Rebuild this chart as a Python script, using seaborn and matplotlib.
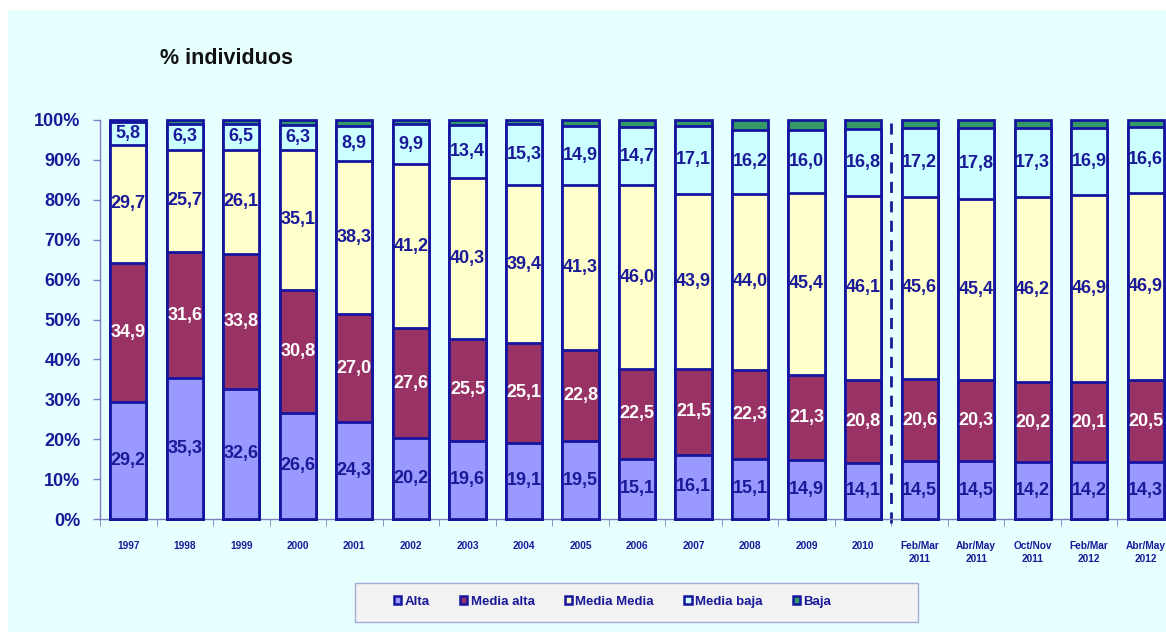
import numpy as np
import pandas as pd
import matplotlib
matplotlib.use("Agg")
import matplotlib.pyplot as plt
import seaborn as sns
from matplotlib.patches import Rectangle, Patch

categories = ["1997", "1998", "1999", "2000", "2001", "2002", "2003", "2004", "2005",
              "2006", "2007", "2008", "2009", "2010",
              "Feb/Mar\n2011", "Abr/May\n2011", "Oct/Nov\n2011", "Feb/Mar\n2012", "Abr/May\n2012"]
alta = [29.2, 35.3, 32.6, 26.6, 24.3, 20.2, 19.6, 19.1, 19.5, 15.1, 16.1, 15.1, 14.9, 14.1,
        14.5, 14.5, 14.2, 14.2, 14.3]
media_alta = [34.9, 31.6, 33.8, 30.8, 27.0, 27.6, 25.5, 25.1, 22.8, 22.5, 21.5, 22.3, 21.3, 20.8,
              20.6, 20.3, 20.2, 20.1, 20.5]
media_media = [29.7, 25.7, 26.1, 35.1, 38.3, 41.2, 40.3, 39.4, 41.3, 46.0, 43.9, 44.0, 45.4, 46.1,
               45.6, 45.4, 46.2, 46.9, 46.9]
media_baja = [5.8, 6.3, 6.5, 6.3, 8.9, 9.9, 13.4, 15.3, 14.9, 14.7, 17.1, 16.2, 16.0, 16.8,
              17.2, 17.8, 17.3, 16.9, 16.6]
baja = [0.4, 1.1, 1.0, 1.2, 1.5, 1.1, 1.2, 1.1, 1.5, 1.7, 1.4, 2.4, 2.4, 2.2,
        2.1, 2.0, 2.1, 1.9, 1.7]
series_names = ["Alta", "Media alta", "Media Media", "Media baja", "Baja"]
series_vals = [alta, media_alta, media_media, media_baja, baja]
colors = ["#9999FF", "#993366", "#FFFFCC", "#CCFFFF", "#339966"]
label_colors = ["#1A1A99", "white", "#1A1A99", "#1A1A99", None]

W, H = 1166, 632
navy = "#1A1A99"
edge = "#1515A0"

sns.set_style("white")
plt.rcParams['font.family'] = ['Liberation Sans', 'DejaVu Sans']

fig = plt.figure(figsize=(W / 100, H / 100), dpi=100)
fig.patch.set_facecolor("white")
fig.patches.append(Rectangle((8 / W, 0), 1, 1 - 10 / H, transform=fig.transFigure,
                             facecolor="#E6FFFF", edgecolor="none", zorder=-10))

left_px, right_px, top_px, bot_px = 100, 1174, 120, 519
ax = fig.add_axes([left_px / W, 1 - bot_px / H, (right_px - left_px) / W, (bot_px - top_px) / H])
ax.set_facecolor("none")

df = pd.DataFrame({"cat": categories})
vals = np.array(series_vals)
cum = np.cumsum(vals, axis=0)

# draw from top-most cumulative down so lower segments overlay
for k in range(len(series_names) - 1, -1, -1):
    df["v"] = cum[k]
    sns.barplot(data=df, x="cat", y="v", order=categories, color=colors[k], saturation=1,
                width=0.64, edgecolor=edge, linewidth=2, ax=ax, zorder=2 + (5 - k))

for p in ax.patches:
    p.set_clip_on(False)

# labels
for k in range(4):
    for i in range(len(categories)):
        bottom = cum[k][i] - vals[k][i]
        txt = f"{vals[k][i]:.1f}".replace(".", ",")
        ax.text(i, bottom + vals[k][i] / 2, txt, ha="center", va="center",
                fontsize=13, fontweight="bold", color=label_colors[k], zorder=20)

ax.axvline(13.5, ymin=-0.01, ymax=1.005, color=navy, linestyle=(0, (4, 3)), linewidth=2, zorder=1,
           clip_on=False)

ax.set_xlim(-0.5, 18.5)
ax.set_ylim(0, 100)
ax.set_yticks(np.arange(0, 101, 10))
ax.set_yticklabels([f"{v}%" for v in range(0, 101, 10)])
ax.tick_params(axis="y", labelsize=13, labelcolor=navy, length=5, width=1, color="#7F7FBF",
               direction="out", left=True, pad=9)
for t in ax.get_yticklabels():
    t.set_fontweight("bold")
ax.set_xticks(range(len(categories)))
ax.set_xticklabels(categories)
ax.tick_params(axis="x", labelsize=7.3, labelcolor=navy, length=0, pad=16)
for t in ax.get_xticklabels():
    t.set_fontweight("bold")
    t.set_linespacing(1.3)
    t.set_verticalalignment("top")
ax.set_xticks(np.arange(-0.5, 18.6, 1), minor=True)
ax.tick_params(axis="x", which="minor", length=5, color="#7F7FBF", direction="out", bottom=True)
ax.set_xlabel("")
ax.set_ylabel("")
for s in ["top", "right"]:
    ax.spines[s].set_visible(False)
for s in ["left", "bottom"]:
    ax.spines[s].set_color("#7F7FBF")
    ax.spines[s].set_linewidth(1)

fig.text(160 / W, 1 - 58 / H, "% individuos", fontsize=15.5, fontweight="bold",
         color="#111111", ha="left", va="center")

# legend box
fig.patches.append(Rectangle((355 / W, 1 - 622 / H), (918 - 355) / W, 39 / H,
                             transform=fig.transFigure, facecolor="#F2F2F2",
                             edgecolor="#A8A8D8", linewidth=1, zorder=1))
handles = [Patch(facecolor=c, edgecolor=edge, linewidth=1.8) for c in colors]
leg = fig.legend(handles, series_names, loc="center left", ncol=5,
                 bbox_to_anchor=(394 / W, 1 - 602 / H), frameon=False, fontsize=9.5,
                 handlelength=0.55, handleheight=0.55, handletextpad=0.25, columnspacing=2.3,
                 borderpad=0, borderaxespad=0)
leg.set_zorder(5)
for t in leg.get_texts():
    t.set_color(navy)
    t.set_fontweight("bold")

fig.savefig("out.png", dpi=100)
